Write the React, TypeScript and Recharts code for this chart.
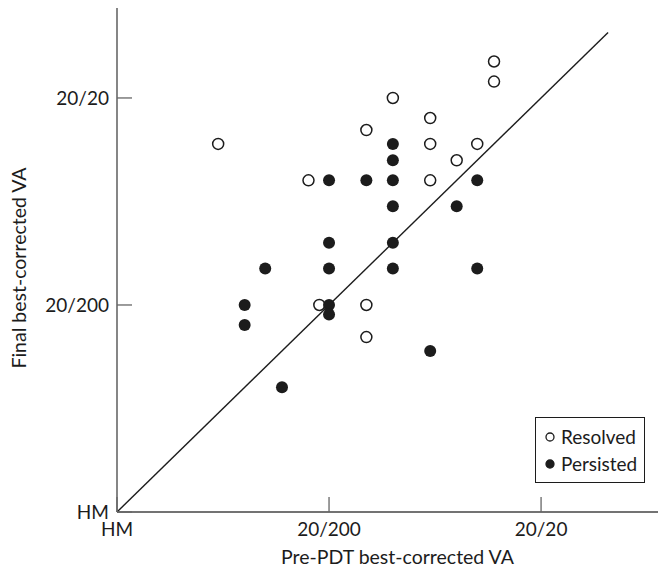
import {
  ScatterChart, Scatter, XAxis, YAxis, ReferenceLine,
} from 'recharts';

const FONT = 'Lato, "Open Sans", sans-serif';
const FONT_SIZE = 19;
const TITLE_SIZE = 19.5;
const INK = '#1c1c1c';

// visual acuity on a log scale: HM = 1, 20/200 = 10, 20/20 = 100
const TICK_VALUES = [1, 10, 100];
const TICK_LABELS = ['HM', '20/200', '20/20'];
const X_DOMAIN = [1, 356];
const Y_DOMAIN = [1, 272];

const RESOLVED_PRE = [60, 60, 20, 30, 15, 3, 30, 50, 40, 8, 30, 9, 15, 15];
const RESOLVED_FINAL = [150, 120, 100, 80, 70, 60, 60, 60, 50, 40, 40, 10, 10, 7];

const PERSISTED_PRE = [20, 20, 10, 15, 20, 50, 20, 40, 10, 20, 5, 10, 20, 50, 4, 10, 10, 4, 30, 6];
const PERSISTED_FINAL = [60, 50, 40, 40, 40, 40, 30, 30, 20, 20, 15, 15, 15, 15, 10, 10, 9, 8, 6, 4];

const resolved = RESOLVED_PRE.map((x, i) => ({ x, y: RESOLVED_FINAL[i] }));
const persisted = PERSISTED_PRE.map((x, i) => ({ x, y: PERSISTED_FINAL[i] }));

const labelFor = (v: number) => TICK_LABELS[TICK_VALUES.indexOf(v)] ?? '';

function XTick({ x, y, payload }: any) {
  return (
    <g>
      <line x1={x} y1={y} x2={x} y2={y - 15} stroke="#666" strokeWidth={1.3} />
      <text x={x} y={y + 24} textAnchor="middle" fontFamily={FONT} fontSize={FONT_SIZE} fill={INK}>
        {labelFor(payload.value)}
      </text>
    </g>
  );
}

function YTick({ x, y, payload }: any) {
  return (
    <g>
      <line x1={x} y1={y} x2={x + 15} y2={y} stroke="#666" strokeWidth={1.3} />
      <text x={x - 8} y={y} dy="0.35em" textAnchor="end" fontFamily={FONT} fontSize={FONT_SIZE} fill={INK}>
        {labelFor(payload.value)}
      </text>
    </g>
  );
}

function XTitle({ viewBox }: any) {
  const { x, y, width, height } = viewBox;
  return (
    <text x={x + width / 2 + 10} y={y + height - 6} textAnchor="middle" fontFamily={FONT} fontSize={TITLE_SIZE} fill={INK}>
      Pre-PDT best-corrected VA
    </text>
  );
}

function YTitle({ viewBox }: any) {
  const { y, height } = viewBox;
  const cx = 26;
  const cy = y + height / 2 + 8;
  return (
    <text x={cx} y={cy} transform={`rotate(-90 ${cx} ${cy})`} textAnchor="middle" fontFamily={FONT} fontSize={TITLE_SIZE} fill={INK}>
      Final best-corrected VA
    </text>
  );
}

const OpenDot = ({ cx, cy }: any) => (
  <circle cx={cx} cy={cy} r={5.5} fill="#fff" stroke={INK} strokeWidth={1.5} />
);
const FilledDot = ({ cx, cy }: any) => (
  <circle cx={cx} cy={cy} r={6} fill={INK} />
);

const LEGEND_ITEMS = [
  { name: 'Resolved', filled: false },
  { name: 'Persisted', filled: true },
];

function LegendBox() {
  return (
    <div style={{
      position: 'absolute', left: 535, top: 417,
      border: `1.5px solid ${INK}`, width: 110, height: 66, boxSizing: 'border-box',
      padding: '5px 0 0 8px', background: '#fff', fontFamily: FONT, fontSize: FONT_SIZE, color: INK,
    }}>
      {LEGEND_ITEMS.map(it => (
        <div key={it.name} style={{ display: 'flex', alignItems: 'center', height: 27 }}>
          <svg width={12} height={12}>
            <circle cx={6} cy={6} r={4} fill={it.filled ? INK : '#fff'} stroke={INK} strokeWidth={1.3} />
          </svg>
          <span style={{ marginLeft: 5 }}>{it.name}</span>
        </div>
      ))}
    </div>
  );
}

export default function App() {
  return (
    <div style={{ position: 'absolute', left: 0, top: 0, width: 660, height: 570, background: '#fff' }}>
      <ScatterChart width={660} height={570} margin={{ top: 8, right: 2, left: 0, bottom: 0 }}>
        <XAxis
          type="number" dataKey="x" scale="log" domain={X_DOMAIN} allowDataOverflow
          ticks={TICK_VALUES} interval={0} height={58}
          tickSize={0} tickMargin={0} tickLine={false}
          axisLine={{ stroke: '#444', strokeWidth: 1.3 }}
          tick={<XTick />}
          label={<XTitle />}
        />
        <YAxis
          type="number" dataKey="y" scale="log" domain={Y_DOMAIN} allowDataOverflow
          ticks={TICK_VALUES} interval={0} width={117}
          tickSize={0} tickMargin={0} tickLine={false}
          axisLine={{ stroke: '#444', strokeWidth: 1.3 }}
          tick={<YTick />}
          label={<YTitle />}
        />
        <ReferenceLine
          segment={[{ x: 1, y: 1 }, { x: 207, y: 207 }]}
          stroke={INK} strokeWidth={1.4}
        />
        <Scatter name="Resolved" data={resolved} shape={<OpenDot />} isAnimationActive={false} />
        <Scatter name="Persisted" data={persisted} shape={<FilledDot />} isAnimationActive={false} />
      </ScatterChart>
      <LegendBox />
    </div>
  );
}
